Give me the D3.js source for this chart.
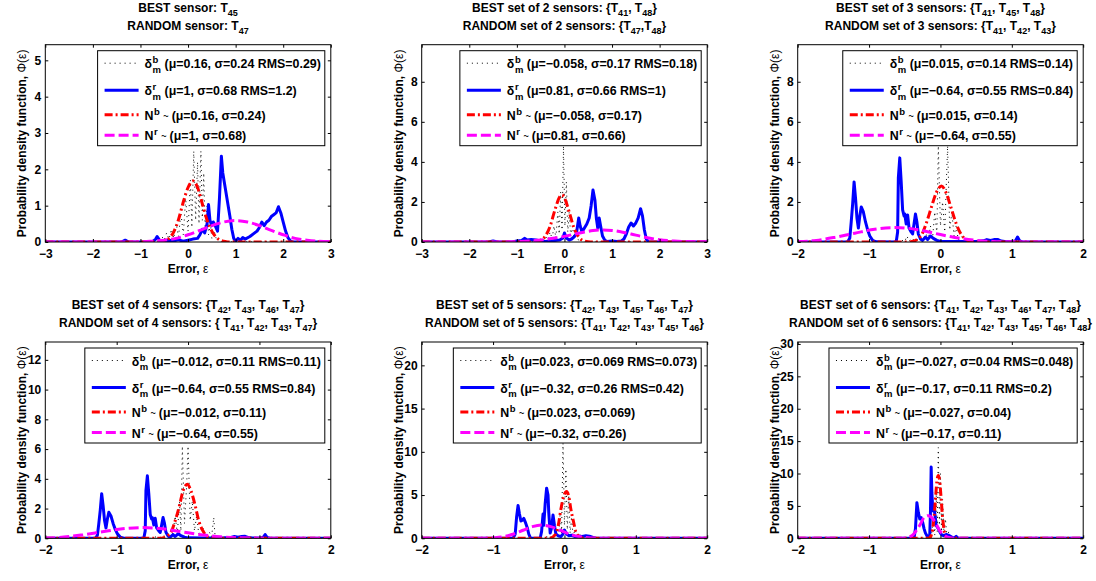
<!DOCTYPE html>
<html>
<head>
<meta charset="utf-8">
<script src="https://cdnjs.cloudflare.com/ajax/libs/d3/7.8.5/d3.min.js"></script>
<style>
  body { margin: 0; background: #fff; }
  svg { display: block; }
  text { font-family: "Liberation Sans", Arial, Helvetica, sans-serif; font-weight: bold; fill: #000; white-space: pre; }
</style>
</head>
<body>
<svg id="chart" width="1096" height="581"></svg>
<script>
// ---- titles / legend numbers ----
const titlesBest = [
  "BEST sensor: T_{45}",
  "BEST set of 2 sensors: {T_{41}, T_{48}}",
  "BEST set of 3 sensors: {T_{41}, T_{45}, T_{48}}",
  "BEST set of 4 sensors: {T_{42}, T_{43}, T_{46}, T_{47}}",
  "BEST set of 5 sensors: {T_{42}, T_{43}, T_{45}, T_{46}, T_{47}}",
  "BEST set of 6 sensors: {T_{41}, T_{42}, T_{43}, T_{46}, T_{47}, T_{48}}"
];
const titlesRandom = [
  "RANDOM sensor: T_{47}",
  "RANDOM set of 2 sensors: {T_{47},T_{48}}",
  "RANDOM set of 3 sensors: {T_{41}, T_{42}, T_{43}}",
  "RANDOM set of 4 sensors: { T_{41}, T_{42}, T_{43}, T_{47}}",
  "RANDOM set of 5 sensors: {T_{41}, T_{42}, T_{43}, T_{45}, T_{46}}",
  "RANDOM set of 6 sensors: {T_{41}, T_{42}, T_{43}, T_{45}, T_{46}, T_{48}}"
];
const muB    = ["0.16", "\u22120.058", "0.015", "\u22120.012", "0.023", "\u22120.027"];
const sigmaB = ["0.24", "0.17", "0.14", "0.11", "0.069", "0.04"];
const rmsB   = ["0.29", "0.18", "0.14", "0.11", "0.073", "0.048"];
const muR    = ["1", "0.81", "\u22120.64", "\u22120.64", "\u22120.32", "\u22120.17"];
const sigmaR = ["0.68", "0.66", "0.55", "0.55", "0.26", "0.11"];
const rmsR   = ["1.2", "1", "0.84", "0.84", "0.42", "0.2"];

// ---- axes ----
const xDomains = [[-3, 3], [-3, 3], [-2, 2], [-2, 2], [-2, 2], [-2, 2]];
const xTicks = [
  [-3, -2, -1, 0, 1, 2, 3], [-3, -2, -1, 0, 1, 2, 3],
  [-2, -1, 0, 1, 2], [-2, -1, 0, 1, 2], [-2, -1, 0, 1, 2], [-2, -1, 0, 1, 2]
];
const yMax = [5.43, 9.85, 9.85, 13.2, 22.7, 30.3];
const yTicks = [
  [0, 1, 2, 3, 4, 5], [0, 2, 4, 6, 8], [0, 2, 4, 6, 8],
  [0, 2, 4, 6, 8, 10, 12], [0, 5, 10, 15, 20], [0, 5, 10, 15, 20, 25, 30]
];

// ---- series (x, pdf) ----
const p1DeltaB = [[-3,0],[-0.9,0],[-0.8,0.02],[-0.7,0.05],[-0.62,0.02],[-0.55,0.15],[-0.5,0.05],[-0.45,0.25],[-0.4,0.08],[-0.35,0.35],[-0.3,0.1],[-0.25,0.5],[-0.2,0.15],[-0.15,0.8],[-0.1,0.2],[-0.05,1.2],[0,0.3],[0.05,1.7],[0.08,0.4],[0.12,2.5],[0.16,0.6],[0.2,2.2],[0.23,0.5],[0.27,2.5],[0.3,0.6],[0.33,1.9],[0.36,0.3],[0.4,1.0],[0.43,0.2],[0.47,0.5],[0.5,0.1],[0.55,0.3],[0.6,0.05],[0.65,0.1],[0.7,0],[3,0]];
const p1DeltaR = [[-3,0],[-1.4,0],[-1.32,0.05],[-1.25,0],[-0.75,0],[-0.68,0.08],[-0.65,0.15],[-0.6,0.05],[-0.5,0.02],[-0.4,0.05],[-0.3,0.03],[-0.2,0.06],[-0.1,0.02],[0,0.05],[0.1,0.08],[0.2,0.1],[0.25,0.2],[0.3,0.35],[0.35,0.25],[0.4,0.5],[0.43,1.03],[0.46,0.6],[0.5,0.45],[0.53,0.55],[0.57,0.45],[0.62,0.3],[0.66,1.2],[0.7,2.36],[0.73,1.9],[0.78,1.5],[0.83,1.1],[0.88,0.7],[0.92,0.35],[0.96,0.1],[1.0,0.02],[1.05,0.1],[1.1,0.05],[1.15,0.12],[1.2,0.08],[1.3,0.15],[1.4,0.25],[1.45,0.3],[1.5,0.4],[1.55,0.55],[1.6,0.45],[1.65,0.55],[1.7,0.6],[1.75,0.7],[1.8,0.75],[1.85,0.8],[1.9,0.97],[1.95,0.8],[2.0,0.55],[2.05,0.3],[2.1,0.12],[2.15,0.03],[2.2,0],[3,0]];
const p1NormB = [[-3,0],[-0.6,0],[-0.5,0.03],[-0.4,0.1],[-0.3,0.28],[-0.2,0.62],[-0.1,1.1],[0,1.5],[0.1,1.68],[0.2,1.5],[0.3,1.05],[0.4,0.6],[0.5,0.3],[0.6,0.12],[0.7,0.04],[0.8,0.01],[0.9,0],[3,0]];
const p1NormR = [[-3,0],[-1.2,0],[-0.8,0.02],[-0.5,0.05],[-0.25,0.1],[0,0.2],[0.25,0.32],[0.5,0.45],[0.75,0.55],[1,0.59],[1.25,0.55],[1.5,0.45],[1.75,0.32],[2,0.2],[2.25,0.1],[2.5,0.05],[2.75,0.02],[3,0.01]];

const p2DeltaB = [[-3,0],[-0.7,0],[-0.6,0.05],[-0.55,0.02],[-0.5,0.15],[-0.45,0.05],[-0.4,0.3],[-0.35,0.1],[-0.3,0.5],[-0.26,0.15],[-0.22,0.8],[-0.18,0.2],[-0.14,1.5],[-0.11,0.4],[-0.08,2.5],[-0.05,0.6],[-0.02,4.8],[0.01,0.8],[0.04,3.0],[0.07,0.5],[0.1,1.5],[0.13,0.3],[0.17,0.8],[0.2,0.15],[0.25,0.4],[0.3,0.05],[0.35,0.15],[0.4,0],[3,0]];
const p2DeltaR = [[-3,0],[-1.6,0],[-1.5,0.05],[-1.4,0],[-1.1,0],[-1.0,0.05],[-0.9,0.08],[-0.84,0.18],[-0.78,0.1],[-0.7,0.12],[-0.6,0.1],[-0.5,0.05],[-0.4,0.02],[-0.3,0.05],[-0.2,0.08],[-0.1,0.1],[-0.03,0.2],[0,0.45],[0.04,0.2],[0.1,0.1],[0.15,0.15],[0.2,0.25],[0.25,0.4],[0.3,1.2],[0.33,0.8],[0.37,0.5],[0.42,0.7],[0.47,0.9],[0.52,1.2],[0.56,1.8],[0.6,2.6],[0.64,2.1],[0.67,1.2],[0.7,0.7],[0.73,1.2],[0.76,0.8],[0.8,0.3],[0.85,0.08],[0.9,0.02],[1.0,0.05],[1.1,0.02],[1.2,0.05],[1.25,0.15],[1.3,0.4],[1.35,0.75],[1.4,0.95],[1.45,0.8],[1.5,0.95],[1.55,1.2],[1.6,1.66],[1.64,1.3],[1.68,0.6],[1.72,0.15],[1.76,0.02],[1.8,0],[3,0]];
const p2NormB = [[-3,0],[-0.6,0],[-0.5,0.08],[-0.4,0.3],[-0.3,0.8],[-0.2,1.6],[-0.1,2.25],[-0.05,2.35],[0,2.2],[0.1,1.5],[0.2,0.7],[0.3,0.25],[0.4,0.06],[0.5,0.01],[0.6,0],[3,0]];
const p2NormR = [[-3,0],[-1.5,0],[-1,0.02],[-0.5,0.1],[-0.2,0.2],[0,0.28],[0.2,0.39],[0.4,0.49],[0.6,0.57],[0.81,0.6],[1.0,0.58],[1.2,0.5],[1.4,0.4],[1.6,0.29],[1.8,0.19],[2.0,0.11],[2.3,0.05],[2.6,0.02],[3,0.01]];

const p3DeltaB = [[-2,0],[-0.6,0],[-0.55,0.1],[-0.5,0.02],[-0.47,0.3],[-0.44,0.05],[-0.4,0.2],[-0.36,0.05],[-0.3,0.15],[-0.25,0.05],[-0.2,0.4],[-0.17,0.1],[-0.14,0.8],[-0.11,0.2],[-0.08,1.5],[-0.05,0.4],[-0.03,4.8],[0,0.8],[0.03,2.0],[0.06,0.5],[0.1,4.8],[0.13,0.6],[0.16,1.5],[0.19,0.3],[0.22,0.8],[0.25,0.1],[0.3,0.3],[0.35,0.05],[0.4,0],[2,0]];
const p3DeltaR = [[-2,0],[-1.3,0],[-1.27,0.2],[-1.25,1.0],[-1.23,1.9],[-1.21,3.0],[-1.19,2.2],[-1.17,1.2],[-1.15,0.7],[-1.13,1.3],[-1.11,1.75],[-1.08,1.5],[-1.05,1.0],[-1.02,0.6],[-0.99,0.3],[-0.95,0.08],[-0.9,0.01],[-0.62,0],[-0.6,0.5],[-0.59,3.2],[-0.57,4.2],[-0.55,3.0],[-0.53,1.6],[-0.51,1.3],[-0.5,1.4],[-0.48,0.9],[-0.46,1.35],[-0.44,0.7],[-0.41,0.5],[-0.39,0.4],[-0.37,0.9],[-0.35,1.4],[-0.33,1.0],[-0.31,0.4],[-0.28,0.15],[-0.25,0.08],[-0.21,0.25],[-0.18,0.12],[-0.14,0.3],[-0.1,0.18],[-0.05,0.08],[0,0.03],[0.2,0.02],[0.5,0.03],[0.6,0.06],[0.65,0.12],[0.7,0.08],[0.75,0.12],[0.8,0.13],[0.85,0.05],[0.9,0.02],[1.0,0.02],[1.05,0.05],[1.08,0.25],[1.11,0.05],[1.15,0],[2,0]];
const p3NormB = [[-2,0],[-0.47,0],[-0.4,0.02],[-0.33,0.12],[-0.26,0.38],[-0.2,0.92],[-0.13,1.7],[-0.06,2.45],[0.015,2.8],[0.08,2.45],[0.15,1.7],[0.22,0.92],[0.29,0.38],[0.36,0.12],[0.43,0.02],[0.5,0],[2,0]];
const p3NormR = [[-2,0.02],[-1.74,0.08],[-1.47,0.24],[-1.2,0.44],[-0.92,0.64],[-0.64,0.72],[-0.36,0.64],[-0.09,0.44],[0.18,0.24],[0.46,0.1],[0.73,0.03],[1.0,0.01],[1.3,0],[2,0]];

const p4DeltaB = [[-2,0],[-0.5,0],[-0.45,0.1],[-0.4,0.02],[-0.35,0.2],[-0.3,0.05],[-0.25,0.3],[-0.22,0.1],[-0.18,1.5],[-0.15,0.3],[-0.12,2.5],[-0.1,0.5],[-0.08,6.2],[-0.05,1.0],[-0.02,3.5],[0,6.2],[0.03,1.2],[0.06,2.5],[0.09,0.5],[0.12,1.5],[0.15,0.3],[0.2,0.8],[0.25,0.1],[0.3,0.4],[0.33,0.1],[0.36,1.4],[0.38,0.05],[0.42,0],[2,0]];
const p4DeltaR = p3DeltaR;
const p4NormB = [[-2,0],[-0.4,0],[-0.34,0.04],[-0.29,0.16],[-0.23,0.49],[-0.18,1.18],[-0.12,2.2],[-0.07,3.2],[-0.01,3.63],[0.04,3.2],[0.1,2.2],[0.15,1.18],[0.21,0.49],[0.26,0.16],[0.32,0.04],[0.38,0],[2,0]];
const p4NormR = p3NormR;

const p5DeltaB = [[-2,0],[-0.3,0],[-0.25,0.2],[-0.2,0.05],[-0.16,0.5],[-0.13,0.1],[-0.1,1.2],[-0.08,0.3],[-0.06,3.0],[-0.04,0.6],[-0.02,11.0],[0,1.5],[0.02,8.0],[0.04,1.0],[0.06,5.0],[0.08,0.6],[0.1,2.5],[0.12,0.3],[0.15,1.0],[0.18,0.1],[0.22,0.4],[0.26,0.05],[0.3,0],[2,0]];
const p5DeltaR = [[-2,0],[-0.72,0],[-0.69,0.5],[-0.67,2.5],[-0.65,3.8],[-0.63,2.8],[-0.61,2.0],[-0.59,2.1],[-0.57,2.3],[-0.55,1.9],[-0.52,1.2],[-0.5,0.5],[-0.48,0.1],[-0.46,0],[-0.34,0],[-0.32,0.8],[-0.3,2.8],[-0.29,1.5],[-0.27,4.0],[-0.25,5.8],[-0.23,5.0],[-0.22,3.0],[-0.2,0.6],[-0.18,1.2],[-0.16,2.7],[-0.14,1.5],[-0.12,0.5],[-0.09,0.3],[-0.05,0.2],[-0.02,0.5],[0,0.95],[0.03,0.5],[0.06,0.3],[0.1,0.35],[0.15,0.2],[0.2,0.25],[0.25,0.2],[0.3,0.3],[0.35,0.25],[0.4,0.1],[0.45,0],[2,0]];
const p5NormB = [[-2,0],[-0.23,0],[-0.19,0.03],[-0.15,0.24],[-0.11,0.72],[-0.08,1.8],[-0.05,3.35],[-0.01,4.85],[0.03,5.4],[0.06,4.85],[0.09,3.35],[0.13,1.8],[0.16,0.72],[0.2,0.24],[0.23,0.06],[0.27,0],[2,0]];
const p5NormR = [[-2,0],[-1.25,0],[-1.1,0.02],[-0.97,0.07],[-0.84,0.21],[-0.71,0.5],[-0.58,0.93],[-0.45,1.35],[-0.32,1.53],[-0.19,1.35],[-0.06,0.93],[0.07,0.5],[0.2,0.21],[0.33,0.07],[0.46,0.02],[0.6,0],[2,0]];

const p6DeltaB = [[-2,0],[-0.2,0],[-0.16,0.3],[-0.13,0.05],[-0.1,3.0],[-0.08,0.5],[-0.06,7.0],[-0.045,1.0],[-0.03,14.0],[-0.015,2.0],[0,10.0],[0.015,1.0],[0.03,6.0],[0.05,0.5],[0.07,3.0],[0.09,0.3],[0.11,1.0],[0.14,0.1],[0.17,0.3],[0.2,0],[2,0]];
const p6DeltaR = [[-2,0],[-0.37,0],[-0.35,1.5],[-0.33,5.5],[-0.31,4.0],[-0.29,3.0],[-0.27,3.2],[-0.25,2.5],[-0.23,1.5],[-0.21,0.8],[-0.18,0.2],[-0.15,0.5],[-0.14,4.0],[-0.13,11.0],[-0.12,7.0],[-0.11,5.0],[-0.1,4.2],[-0.09,4.8],[-0.07,3.0],[-0.06,2.0],[-0.03,1.5],[0,0.8],[0.02,0.5],[0.05,0.4],[0.08,0.6],[0.11,0.5],[0.14,0.3],[0.17,0.1],[0.2,0.1],[0.22,0.3],[0.25,0],[2,0]];
const p6NormB = [[-2,0],[-0.17,0],[-0.15,0.11],[-0.13,0.44],[-0.11,1.35],[-0.09,3.24],[-0.07,6.04],[-0.05,8.8],[-0.03,9.7],[-0.01,8.8],[0.01,6.04],[0.03,3.24],[0.05,1.35],[0.07,0.44],[0.09,0.11],[0.12,0],[2,0]];
const p6NormR = [[-2,0],[-0.55,0],[-0.5,0.04],[-0.45,0.16],[-0.39,0.49],[-0.34,1.18],[-0.28,2.2],[-0.23,3.2],[-0.17,3.5],[-0.12,3.2],[-0.06,2.2],[-0.01,1.18],[0.05,0.49],[0.1,0.16],[0.16,0.04],[0.2,0],[2,0]];

const panelSeries = [
  [p1DeltaB, p1DeltaR, p1NormB, p1NormR],
  [p2DeltaB, p2DeltaR, p2NormB, p2NormR],
  [p3DeltaB, p3DeltaR, p3NormB, p3NormR],
  [p4DeltaB, p4DeltaR, p4NormB, p4NormR],
  [p5DeltaB, p5DeltaR, p5NormB, p5NormR],
  [p6DeltaB, p6DeltaR, p6NormB, p6NormR]
];

// ---- styling / layout ----
const seriesStyle = [
  { color: "#000000", width: 1, dash: "1,4", smooth: false },
  { color: "#0000ff", width: 3, dash: null, smooth: false },
  { color: "#ff0000", width: 3, dash: "8,3,2,3", smooth: true },
  { color: "#ff00ff", width: 3, dash: "10,4", smooth: true }
];
const colLeft = [45.3, 421.7, 797.7];
const plotW = 285.5;
const rowTop = [44.7, 342];
const rowBottom = [242, 538.3];
const FONT = "Liberation Sans, Arial, Helvetica, sans-serif";
const LEG_FS = 12.4;

const svg = d3.select("#chart");

function drawTitle(g, str, cx, yb) {
  let t = g.append("text").attr("x", cx).attr("y", yb)
    .attr("text-anchor", "middle").attr("font-size", 12);
  let parts = str.split(/(_\{[^}]*\})/).filter(s => s.length);
  let shifted = false;
  parts.forEach(p => {
    if (p.startsWith("_{")) {
      t.append("tspan").attr("font-size", 9).attr("dy", shifted ? 0 : 4).text(p.slice(2, -1));
      shifted = true;
    } else {
      t.append("tspan").attr("dy", shifted ? -4 : 0).text(p);
      shifted = false;
    }
  });
}

function legendRow(g, x0, yb, sym, sup, sub, rest, tilde) {
  let t = g.append("text").attr("x", x0).attr("y", yb).attr("font-size", LEG_FS).text(sym);
  let x = x0 + t.node().getComputedTextLength() + 0.5;
  let s1 = g.append("text").attr("x", x).attr("y", yb - 5).attr("font-size", 9.5).text(sup);
  let w = s1.node().getComputedTextLength();
  if (sub) {
    let s2 = g.append("text").attr("x", x).attr("y", yb + 4.5).attr("font-size", 9.5).text(sub);
    w = Math.max(w, s2.node().getComputedTextLength());
  }
  x += w + 3.5;
  if (tilde) {
    let tt = g.append("text").attr("x", x).attr("y", yb - 1).attr("font-size", 9)
      .attr("font-weight", "normal").text("~");
    x += tt.node().getComputedTextLength() + 3;
  }
  g.append("text").attr("x", x).attr("y", yb).attr("font-size", LEG_FS).text(rest);
}

panelSeries.forEach((series, i) => {
  let col = i % 3, row = Math.floor(i / 3);
  let left = colLeft[col], top = rowTop[row], h = rowBottom[row] - top;

  let g = svg.append("g").attr("transform", `translate(${left},${top})`);
  let x = d3.scaleLinear().domain(xDomains[i]).range([0, plotW]);
  let y = d3.scaleLinear().domain([0, yMax[i]]).range([h, 0]);

  g.append("clipPath").attr("id", "clip" + i)
    .append("rect").attr("width", plotW).attr("height", h);

  let body = g.append("g").attr("clip-path", `url(#clip${i})`);
  series.forEach((d, k) => {
    let st = seriesStyle[k];
    let line = d3.line().x(p => x(p[0])).y(p => y(p[1]))
      .curve(st.smooth ? d3.curveMonotoneX : d3.curveLinear);
    body.append("path")
      .attr("d", line(d))
      .attr("fill", "none")
      .attr("stroke", st.color)
      .attr("stroke-width", st.width)
      .attr("stroke-dasharray", st.dash)
      .attr("stroke-linejoin", "round");
  });

  // axes, ticks inward on all four sides
  let styleAxis = a => a.attr("font-size", 12).attr("font-family", FONT).attr("font-weight", "bold")
    .call(s => s.select(".domain").remove());
  g.append("g").attr("transform", `translate(0,${h})`)
    .call(d3.axisBottom(x).tickValues(xTicks[i]).tickFormat(d3.format("d"))
      .tickSizeInner(-3).tickSizeOuter(0).tickPadding(7.5))
    .call(styleAxis);
  g.append("g")
    .call(d3.axisTop(x).tickValues(xTicks[i]).tickFormat("").tickSizeInner(-3).tickSizeOuter(0))
    .call(styleAxis);
  g.append("g")
    .call(d3.axisLeft(y).tickValues(yTicks[i]).tickFormat(d3.format("d"))
      .tickSizeInner(-3).tickSizeOuter(0).tickPadding(4))
    .call(styleAxis);
  g.append("g").attr("transform", `translate(${plotW},0)`)
    .call(d3.axisRight(y).tickValues(yTicks[i]).tickFormat("").tickSizeInner(-3).tickSizeOuter(0))
    .call(styleAxis);
  g.append("rect").attr("width", plotW).attr("height", h)
    .attr("fill", "none").attr("stroke", "#000").attr("stroke-width", 1);

  // labels
  drawTitle(g, titlesBest[i], plotW / 2, -33);
  drawTitle(g, titlesRandom[i], plotW / 2, -15);

  let xl = g.append("text").attr("x", plotW / 2).attr("y", h + 31)
    .attr("text-anchor", "middle").attr("font-size", 12);
  xl.append("tspan").text("Error, ");
  xl.append("tspan").attr("font-weight", "normal").text("\u03b5");

  let yl = g.append("text").attr("transform", `translate(-19,${h / 2}) rotate(-90)`)
    .attr("text-anchor", "middle").attr("font-size", 12);
  yl.append("tspan").text("Probability density function, ");
  yl.append("tspan").attr("font-weight", "normal").text("\u03a6(\u03b5)");

  // legend
  let lg = g.append("g");
  let rows = lg.append("g");
  let baselines = [17.5, 44.5, 69, 89.5];
  let texts = [
    ["\u03b4", "b", "m", `(\u03bc=${muB[i]}, \u03c3=${sigmaB[i]} RMS=${rmsB[i]})`, false],
    ["\u03b4", "r", "m", `(\u03bc=${muR[i]}, \u03c3=${sigmaR[i]} RMS=${rmsR[i]})`, false],
    ["N", "b", null, `(\u03bc=${muB[i]}, \u03c3=${sigmaB[i]})`, true],
    ["N", "r", null, `(\u03bc=${muR[i]}, \u03c3=${sigmaR[i]})`, true]
  ];
  texts.forEach((tx, k) => {
    let st = seriesStyle[k];
    rows.append("line").attr("x1", 7).attr("x2", 41)
      .attr("y1", baselines[k] - 5).attr("y2", baselines[k] - 5)
      .attr("stroke", st.color).attr("stroke-width", st.width)
      .attr("stroke-dasharray", st.dash);
    legendRow(rows, 47, baselines[k], tx[0], tx[1], tx[2], tx[3], tx[4]);
  });
  let bb = rows.node().getBBox();
  let legW = bb.x + bb.width + 4;
  lg.insert("rect", ":first-child").attr("width", legW).attr("height", 95)
    .attr("fill", "#fff").attr("stroke", "#000").attr("stroke-width", 1);
  lg.attr("transform", `translate(${plotW - 6 - legW},6)`);
});
</script>
</body>
</html>
